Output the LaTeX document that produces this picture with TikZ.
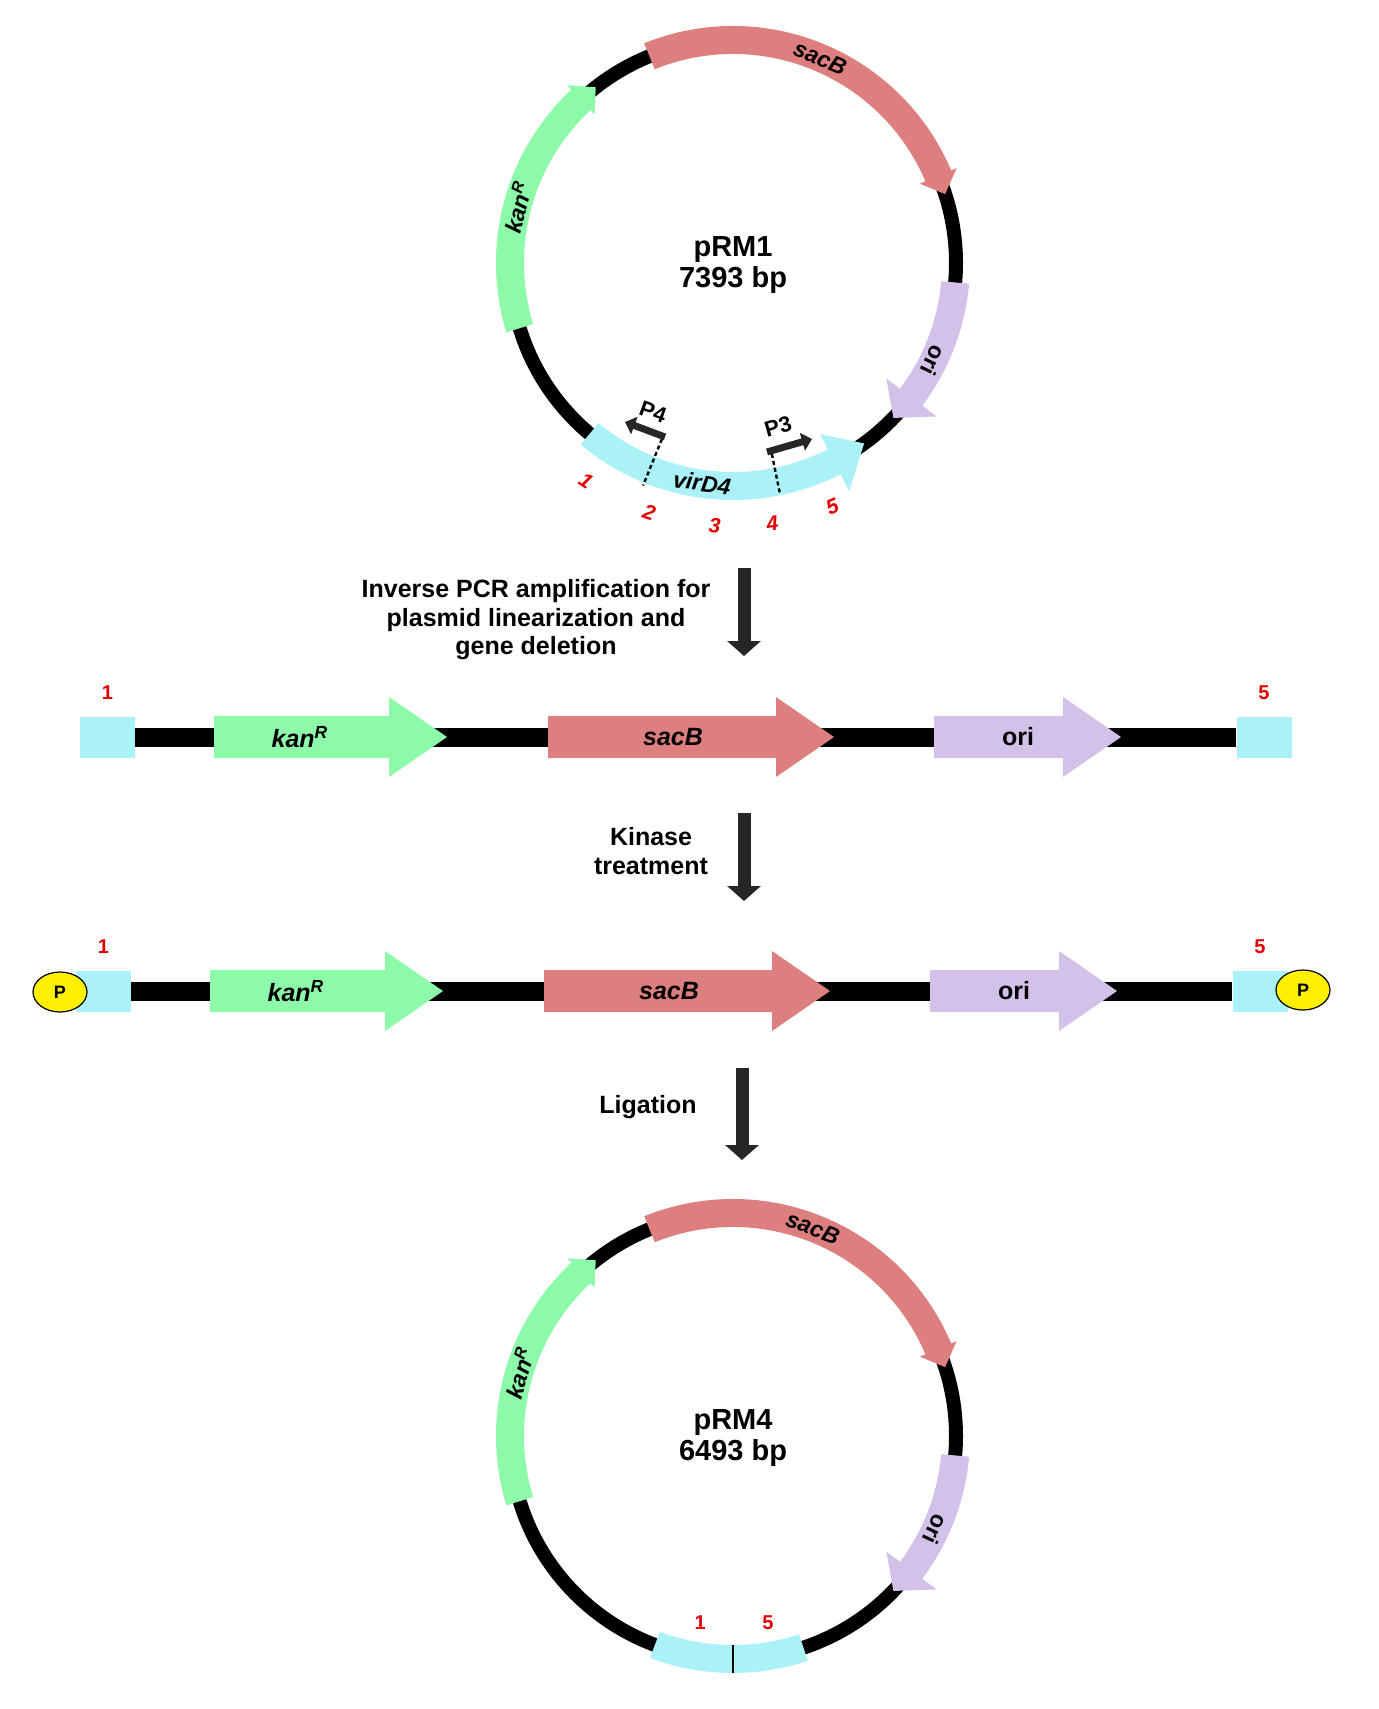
\documentclass[tikz,border=0pt]{standalone}
\usepackage{fontspec}
\setmainfont{Liberation Sans}
\usetikzlibrary{arrows.meta,positioning,shapes.geometric}
\definecolor{kancol}{RGB}{140,250,168}
\definecolor{saccol}{RGB}{222,127,127}
\definecolor{oricol}{RGB}{212,193,233}
\definecolor{vircol}{RGB}{170,242,248}
\definecolor{pyellow}{RGB}{255,240,0}
\definecolor{numred}{RGB}{228,0,0}
\definecolor{darkarrow}{RGB}{38,38,38}
\tikzset{
  ring/.style={line width=7pt},
  dnaline/.style={line width=9.5pt},
  endbox/.style={fill=vircol,minimum width=27.5pt,minimum height=20.5pt,inner sep=0pt},
  genelabel/.style={font=\bfseries\itshape\fontsize{11.5}{12}\selectfont,inner sep=0pt},
  orilabel/.style={font=\bfseries\fontsize{11.5}{12}\selectfont,inner sep=0pt},
  linlabel/.style={font=\bfseries\itshape\fontsize{12.5}{14}\selectfont,inner sep=0pt},
  numlabel/.style={text=numred,font=\bfseries\fontsize{10}{11}\selectfont,inner sep=0pt},
  sitenum/.style={numlabel,font=\bfseries\itshape\fontsize{10.5}{11}\selectfont},
  primerlabel/.style={font=\bfseries\fontsize{11}{12}\selectfont,inner sep=0pt},
  stagearrow/.style={draw=darkarrow,line width=6.5pt,-{Triangle[width=16.5pt,length=7.5pt]}},
  primer/.style={draw=darkarrow,line width=3.5pt,-{Triangle[width=9pt,length=5pt]}},
  cutline/.style={dash pattern=on 2pt off 1.5pt,line width=1.2pt},
  steptext/.style={font=\bfseries\fontsize{12.5}{14.25}\selectfont,align=center,inner sep=0pt},
  plasmidname/.style={font=\bfseries\fontsize{14.5}{15.5}\selectfont,align=center,inner sep=0pt},
  pmark/.style={ellipse,draw,line width=0.6pt,fill=pyellow,minimum width=27pt,minimum height=20pt,inner sep=0pt,font=\bfseries\fontsize{9}{10}\selectfont}
}

\begin{document}
\begin{tikzpicture}[x=0.5pt,y=0.5pt]
\useasboundingbox (0,0) rectangle (1378,-1709);

% backbone and shared genes of both plasmids
\foreach \cy in {-263,-1436} {
  \begin{scope}[shift={(733,\cy)}]
    \draw[ring] (0,0) circle[radius=223];
    \foreach \sa/\ha/\ta/\ho/\hi/\col in {197/133/128/243/203/kancol, 112/23/18/243/203/saccol, -5/-37/-44/255/192/oricol}
      \fill[\col] (\sa:237) arc[start angle=\sa,end angle=\ha,radius=237] -- (\ha:\ho) -- (\ta:223)
        -- (\ha:\hi) -- (\ha:209) arc[start angle=\ha,end angle=\sa,radius=209] -- cycle;
  \end{scope}
}

% pRM1
\begin{scope}[shift={(733,-263)}]
  \fill[vircol] (-130:237) arc[start angle=-130,end angle=-63,radius=237] -- (-63:256) -- (-54:223)
    -- (-63:192) -- (-63:209) arc[start angle=-63,end angle=-130,radius=209] -- cycle;
  \node[plasmidname] (pRM1) at (0,-2) {pRM1\\7393 bp};
  \node[genelabel,rotate=75.5] (kan1) at (165.5:223) {kan\textsuperscript{R}};
  \node[genelabel,rotate=-23] (sac1) at (67:223) {sacB};
  \node[orilabel,rotate=-116] (ori1) at (-26:223) {ori};
  \node[genelabel,rotate=-8] (vir1) at (-98:222) {virD4};
  \draw[cutline] (-112:190) -- (-112:240);
  \draw[cutline] (-78.5:195) -- (-78.5:235);
  \coordinate (P4a) at (-68,-174);
  \coordinate (P4b) at (-108,-159);
  \coordinate (P3a) at (34,-189);
  \coordinate (P3b) at (79,-176);
  \draw[primer] (P4a) -- (P4b);
  \draw[primer] (P3a) -- (P3b);
  \node[primerlabel,rotate=-20] (P4) at (-80,-149) {P4};
  \node[primerlabel,rotate=16] (P3) at (45,-164) {P3};
  \foreach \n/\ang in {1/-124,2/-108.6,3/-94,4/-81.4,5/-67.8}
    \node[sitenum,rotate=\ang+90] (site\n) at (\ang:263) {\n};
\end{scope}

% steps
\coordinate (s1a) at (744,-568);
\coordinate (s1b) at (744,-656);
\draw[stagearrow] (s1a) -- (s1b);
\node[steptext] (pcr) at (536,-620) {Inverse PCR amplification for\\plasmid linearization and\\gene deletion};
\coordinate (s2a) at (744,-813);
\coordinate (s2b) at (744,-901);
\draw[stagearrow] (s2a) -- (s2b);
\node[steptext] (kinase) at (651,-851) {Kinase\\treatment};
\coordinate (s3a) at (742,-1068);
\coordinate (s3b) at (742,-1160);
\draw[stagearrow] (s3a) -- (s3b);
\node[steptext] (ligation) at (648,-1107) {Ligation};

% linear products
\foreach \row/\yy/\dx in {1/-737/0,2/-991/-4} {
  \begin{scope}[shift={(\dx,\yy)}]
    \node[endbox] (endL\row) at (107.5,0) {};
    \node[endbox] (endR\row) at (1264,0) {};
    \draw[dnaline] (endL\row.east) -- (endR\row.west);
    \foreach \xa/\xb/\col in {214/389/kancol,548/776/saccol,934/1063/oricol}
      \fill[\col] (\xa,21) -- (\xb,21) -- (\xb,40) -- (\xb+58,0) -- (\xb,-40) -- (\xb,-21) -- (\xa,-21) -- cycle;
    \node[linlabel] (kanL\row) at (300,0) {kan\textsuperscript{R}};
    \node[linlabel] (sacL\row) at (673,0) {sacB};
    \node[linlabel,font=\bfseries\fontsize{12.5}{14}\selectfont] (oriL\row) at (1018,0) {ori};
    \node[numlabel,above=8pt of endL\row] (endnumL\row) {1};
    \node[numlabel,above=8pt of endR\row] (endnumR\row) {5};
  \end{scope}
}
\node[pmark] (pL) at (60,-992) {P};
\node[pmark] (pR) at (1303,-990) {P};

% pRM4
\begin{scope}[shift={(733,-1436)}]
  \fill[vircol] (-110.5:237) arc[start angle=-110.5,end angle=-71.6,radius=237]
    -- (-71.6:209) arc[start angle=-71.6,end angle=-110.5,radius=209] -- cycle;
  \draw[line width=1pt] (-90:209) -- (-90:237);
  \node[plasmidname] (pRM4) at (0,-2) {pRM4\\6493 bp};
  \node[genelabel,rotate=73.5] (kan4) at (163.5:223) {kan\textsuperscript{R}};
  \node[genelabel,rotate=-21] (sac4) at (69:223) {sacB};
  \node[orilabel,rotate=-114.7] (ori4) at (-24.7:223) {ori};
  \node[numlabel] (join1) at (-100:189) {1};
  \node[numlabel] (join5) at (-79.4:190) {5};
\end{scope}
\end{tikzpicture}
\end{document}
